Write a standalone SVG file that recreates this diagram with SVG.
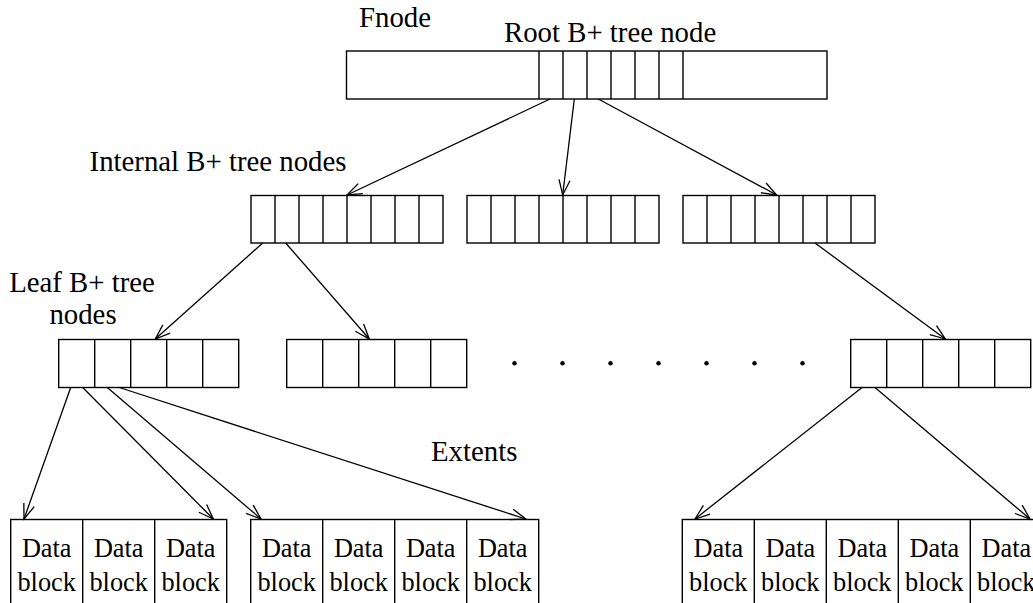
<svg xmlns="http://www.w3.org/2000/svg" width="1033" height="603" viewBox="0 0 1033 603">
  <style>
    .box { fill: none; stroke: #000; stroke-width: 1.4; }
    .div { stroke: #000; stroke-width: 1.4; }
    .edge { fill: none; stroke: #000; stroke-width: 1.3; marker-end: url(#vhead); }
    .label { font-family: "Liberation Serif", "Times New Roman", serif; font-size: 28.8px; fill: #000; }
    .cell { font-family: "Liberation Serif", "Times New Roman", serif; font-size: 26.3px; fill: #000; text-anchor: middle; }
    .dot { fill: #000; }
  </style>
  <defs>
    <marker id="vhead" markerUnits="userSpaceOnUse" markerWidth="20" markerHeight="14" viewBox="-17 -7 20 14" refX="0" refY="0" orient="auto">
      <path d="M-15,-5.5 L0,0 L-15,5.5" fill="none" stroke="#000" stroke-width="1.3"/>
    </marker>
  </defs>

  <rect width="1033" height="603" fill="#fff"/>

  <!-- labels -->
  <g id="labels">
    <text class="label" x="359" y="27">Fnode</text>
    <text class="label" x="504" y="42">Root B+ tree node</text>
    <text class="label" x="346.5" y="171" text-anchor="end">Internal B+ tree nodes</text>
    <text class="label" x="82" y="291.5" text-anchor="middle">Leaf B+ tree</text>
    <text class="label" x="83" y="324" text-anchor="middle">nodes</text>
    <text class="label" x="431" y="461">Extents</text>
  </g>

  <!-- fnode with embedded root node -->
  <g id="root">
    <rect class="box" x="346.5" y="51" width="480.5" height="48"/>
    <path class="div" d="M539,51V99 M563,51V99 M587,51V99 M611,51V99 M635,51V99 M659,51V99 M683,51V99"/>
  </g>

  <!-- internal nodes -->
  <g id="internal1">
    <rect class="box" x="251" y="195.5" width="192" height="47.5"/>
    <path class="div" d="M275,195.5V243 M299,195.5V243 M323,195.5V243 M347,195.5V243 M371,195.5V243 M395,195.5V243 M419,195.5V243"/>
  </g>
  <g id="internal2">
    <rect class="box" x="467" y="195.5" width="192" height="47.5"/>
    <path class="div" d="M491,195.5V243 M515,195.5V243 M539,195.5V243 M563,195.5V243 M587,195.5V243 M611,195.5V243 M635,195.5V243"/>
  </g>
  <g id="internal3">
    <rect class="box" x="683" y="195.5" width="192" height="47.5"/>
    <path class="div" d="M707,195.5V243 M731,195.5V243 M755,195.5V243 M779,195.5V243 M803,195.5V243 M827,195.5V243 M851,195.5V243"/>
  </g>

  <!-- leaf nodes -->
  <g id="leaf1">
    <rect class="box" x="58.7" y="339.5" width="180" height="48"/>
    <path class="div" d="M94.7,339.5V387.5 M130.7,339.5V387.5 M166.7,339.5V387.5 M202.7,339.5V387.5"/>
  </g>
  <g id="leaf2">
    <rect class="box" x="286.7" y="339.5" width="180" height="48"/>
    <path class="div" d="M322.7,339.5V387.5 M358.7,339.5V387.5 M394.7,339.5V387.5 M430.7,339.5V387.5"/>
  </g>
  <g id="leafn">
    <rect class="box" x="850.7" y="339.5" width="180" height="48"/>
    <path class="div" d="M886.7,339.5V387.5 M922.7,339.5V387.5 M958.7,339.5V387.5 M994.7,339.5V387.5"/>
  </g>

  <!-- ellipsis between leaves -->
  <g id="ellipsis">
    <circle class="dot" cx="514.5" cy="363.3" r="2.2"/>
    <circle class="dot" cx="562.5" cy="363.3" r="2.2"/>
    <circle class="dot" cx="610.5" cy="363.3" r="2.2"/>
    <circle class="dot" cx="658.5" cy="363.3" r="2.2"/>
    <circle class="dot" cx="706.5" cy="363.3" r="2.2"/>
    <circle class="dot" cx="754.5" cy="363.3" r="2.2"/>
    <circle class="dot" cx="802.5" cy="363.3" r="2.2"/>
  </g>

  <!-- data blocks -->
  <g id="extent1">
    <rect class="box" x="10.7" y="519.5" width="216" height="110"/>
    <path class="div" d="M82.7,519.5V610 M154.7,519.5V610"/>
    <text class="cell" x="46.7" y="557">Data</text><text class="cell" x="46.7" y="591">block</text>
    <text class="cell" x="118.7" y="557">Data</text><text class="cell" x="118.7" y="591">block</text>
    <text class="cell" x="190.7" y="557">Data</text><text class="cell" x="190.7" y="591">block</text>
  </g>
  <g id="extent2">
    <rect class="box" x="250.7" y="519.5" width="288" height="110"/>
    <path class="div" d="M322.7,519.5V610 M394.7,519.5V610 M466.7,519.5V610"/>
    <text class="cell" x="286.7" y="557">Data</text><text class="cell" x="286.7" y="591">block</text>
    <text class="cell" x="358.7" y="557">Data</text><text class="cell" x="358.7" y="591">block</text>
    <text class="cell" x="430.7" y="557">Data</text><text class="cell" x="430.7" y="591">block</text>
    <text class="cell" x="502.7" y="557">Data</text><text class="cell" x="502.7" y="591">block</text>
  </g>
  <g id="extent3">
    <rect class="box" x="682.3" y="519.5" width="360" height="110"/>
    <path class="div" d="M754.3,519.5V610 M826.3,519.5V610 M898.3,519.5V610 M970.3,519.5V610"/>
    <text class="cell" x="718.3" y="557">Data</text><text class="cell" x="718.3" y="591">block</text>
    <text class="cell" x="790.3" y="557">Data</text><text class="cell" x="790.3" y="591">block</text>
    <text class="cell" x="862.3" y="557">Data</text><text class="cell" x="862.3" y="591">block</text>
    <text class="cell" x="934.3" y="557">Data</text><text class="cell" x="934.3" y="591">block</text>
    <text class="cell" x="1006.3" y="557">Data</text><text class="cell" x="1006.3" y="591">block</text>
  </g>

  <!-- pointers -->
  <g id="connectors">
    <path class="edge" d="M550,99L347,195"/>
    <path class="edge" d="M574.3,99L562.7,195"/>
    <path class="edge" d="M598.3,99L776.7,195"/>
    <path class="edge" d="M262.7,243L155.3,339"/>
    <path class="edge" d="M285.7,243L369.3,339"/>
    <path class="edge" d="M815,243L945.3,339"/>
    <path class="edge" d="M70.7,387.5L24,519"/>
    <path class="edge" d="M82.7,387.5L213.3,519"/>
    <path class="edge" d="M107.3,387.5L261,519"/>
    <path class="edge" d="M119.3,387.5L525.8,519"/>
    <path class="edge" d="M862,387.5L695,519"/>
    <path class="edge" d="M875,387.5L1030,519"/>
  </g>
</svg>
